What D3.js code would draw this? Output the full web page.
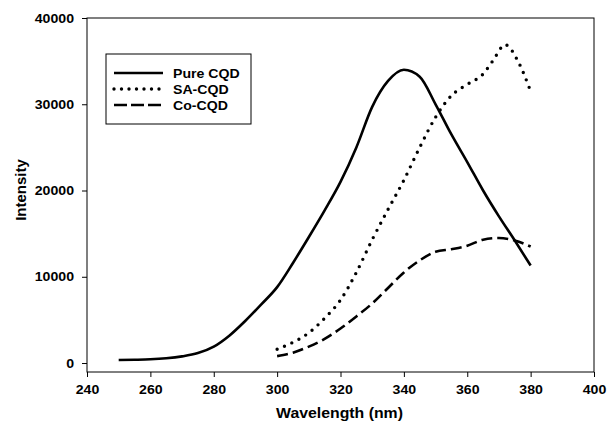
<!DOCTYPE html>
<html>
<head>
<meta charset="utf-8">
<script src="https://cdn.jsdelivr.net/npm/d3@7/dist/d3.min.js"></script>
<style>
  body { margin: 0; background: #fff; }
  svg { display: block; }
  text { font-family: "Liberation Sans", Arial, sans-serif; font-weight: bold; fill: #000; }
</style>
</head>
<body>
<svg id="chart" width="607" height="425"></svg>
<script>
// ---- data ----
const pureX = [250,255,260,265,270,275,280,285,290,295,300,305,310,315,320,325,330,335,340,345,350,355,360,365,370,375,380];
const pureY = [350,380,430,550,770,1150,1900,3200,4900,6800,8800,11600,14600,17700,21000,25000,29700,32700,34000,33200,30000,26500,23300,20000,17000,14200,11300];
const saX = [300,305,310,315,320,325,330,335,340,345,350,355,360,365,368,372,376,380];
const saY = [1600,2400,3500,5200,7300,10500,14300,17800,21200,25000,28500,31000,32300,33500,35000,36900,35000,31500];
const coX = [300,305,310,315,320,325,330,335,340,345,350,355,360,365,370,375,380];
const coY = [800,1200,1900,2800,4000,5400,6900,8700,10500,11900,12900,13200,13600,14300,14500,14200,13500];
const seriesNames = ["Pure CQD","SA-CQD","Co-CQD"];
const xTicks = [240,260,280,300,320,340,360,380,400];
const yTicks = [0,10000,20000,30000,40000];

const svg = d3.select("#chart");
const L = 87, R = 594, T = 18, B = 372;
const STRETCH = 1.13;
const x = d3.scaleLinear().domain([240,400]).range([L,R]);
const y = d3.scaleLinear().domain([-1040,40000]).range([B,T]);

function stretch(sel){
  sel.each(function(){
    const w = this.getComputedTextLength();
    d3.select(this).attr("textLength", w*STRETCH).attr("lengthAdjust","spacingAndGlyphs");
  });
}

// frame
svg.append("rect").attr("x",L).attr("y",T).attr("width",R-L).attr("height",B-T)
  .attr("fill","none").attr("stroke","#000").attr("stroke-width",1);

const xAxis = svg.append("g").attr("transform",`translate(0,${B})`)
  .call(d3.axisBottom(x).tickValues(xTicks).tickSize(5).tickPadding(8).tickFormat(d3.format("d")));
const yAxis = svg.append("g").attr("transform",`translate(${L},0)`)
  .call(d3.axisLeft(y).tickValues(yTicks).tickSize(5).tickPadding(8).tickFormat(d3.format("d")));
[xAxis,yAxis].forEach(a=>{
  a.select(".domain").remove();
  a.selectAll("line").attr("stroke","#000");
  a.selectAll("text").style("font-size","12.5px").style("font-family","Liberation Sans, Arial, sans-serif").style("font-weight","bold");
  stretch(a.selectAll("text"));
});

svg.append("text").attr("x",(L+R)/2 - 1).attr("y",418).attr("text-anchor","middle")
  .style("font-size","14px").text("Wavelength (nm)").call(stretch);
svg.append("text").attr("transform",`translate(26,190) rotate(-90)`).attr("text-anchor","middle")
  .style("font-size","15px").text("Intensity");

const line = d3.line().x(d=>x(d[0])).y(d=>y(d[1])).curve(d3.curveMonotoneX);
const styles = [
  {dash:null, w:2.6, cap:"butt"},
  {dash:"0 8", w:3.4, cap:"round"},
  {dash:"11 5", w:2.6, cap:"butt"}
];
const data = [d3.zip(pureX,pureY), d3.zip(saX,saY), d3.zip(coX,coY)];
data.forEach((d,i)=>{
  svg.append("path").datum(d).attr("d",line).attr("fill","none").attr("stroke","#000")
    .attr("stroke-width",styles[i].w).attr("stroke-linecap",styles[i].cap)
    .attr("stroke-dasharray",styles[i].dash);
});

// legend
const lg = svg.append("g");
lg.append("rect").attr("x",106).attr("y",54).attr("width",145).attr("height",70)
  .attr("fill","#fff").attr("stroke","#000").attr("stroke-width",1);
seriesNames.forEach((n,i)=>{
  const yy = 73 + i*16;
  lg.append("line").attr("x1",114).attr("x2",163).attr("y1",yy).attr("y2",yy)
    .attr("stroke","#000").attr("stroke-width",styles[i].w).attr("stroke-linecap",styles[i].cap)
    .attr("stroke-dasharray", i===1 ? "0 7.5" : (i===2 ? "13 4" : null));
  lg.append("text").attr("x",173).attr("y",yy+4.5).style("font-size","12.5px").text(n).call(stretch);
});
</script>
</body>
</html>
